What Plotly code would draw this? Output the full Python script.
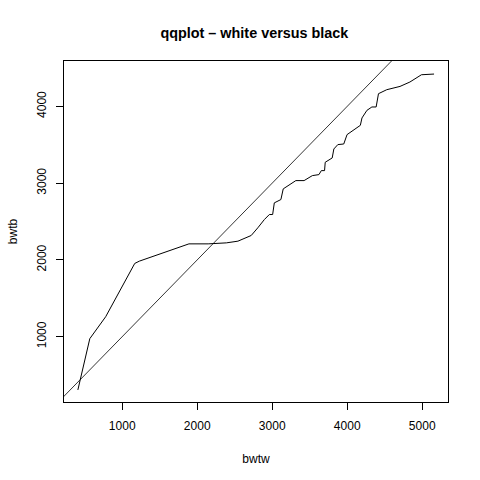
import plotly.graph_objects as go

# QQ curve: sorted white birth weights (x) vs black birth weights (y)
bwtw = [409, 568, 780, 978, 1167, 1229, 1890, 2146, 2389, 2543, 2720, 2808, 2896,
        2962, 3006, 3028, 3116, 3147, 3205, 3315, 3425, 3535, 3623, 3655, 3698,
        3707, 3800, 3822, 3875, 3954, 3998, 4087, 4175, 4197, 4263, 4329, 4386,
        4417, 4527, 4704, 4836, 4990, 5158]
bwtb = [306, 974, 1260, 1615, 1954, 1984, 2209, 2209, 2222, 2244, 2318, 2418, 2526,
        2591, 2591, 2743, 2786, 2925, 2960, 3033, 3033, 3098, 3111, 3163, 3163,
        3272, 3328, 3445, 3502, 3510, 3632, 3697, 3753, 3849, 3948, 3992, 3992,
        4165, 4217, 4260, 4317, 4412, 4421]

# reference line y = a + b x
line_a = 0
line_b = 1

x_range = [224, 5344]
y_range = [149, 4591]
x_ticks = [1000, 2000, 3000, 4000, 5000]
y_ticks = [1000, 2000, 3000, 4000]

font = "Liberation Sans, Arial, Helvetica, sans-serif"

fig = go.Figure()
fig.add_trace(go.Scatter(x=bwtw, y=bwtb, mode="lines",
                         line=dict(color="black", width=1), hoverinfo="skip"))
lx = [x_range[0] - 500, x_range[1] + 500]
fig.add_trace(go.Scatter(x=lx, y=[line_a + line_b * v for v in lx], mode="lines",
                         line=dict(color="black", width=0.8), hoverinfo="skip"))

axis_common = dict(showline=True, linecolor="black", linewidth=1, mirror=True,
                   ticks="outside", ticklen=7, tickwidth=1, tickcolor="black",
                   showgrid=False, zeroline=False,
                   tickfont=dict(family=font, size=12, color="black"))

fig.update_layout(
    width=480, height=480,
    margin=dict(l=61, r=32, t=61, b=78),
    paper_bgcolor="white", plot_bgcolor="white",
    showlegend=False,
    title=dict(text="<b>qqplot – white versus black</b>", x=0.53, xanchor="center",
               y=1 - 33 / 480, yanchor="middle",
               font=dict(family=font, size=14.4, color="black")),
    xaxis=dict(range=x_range, tickvals=x_ticks, ticktext=[str(v) for v in x_ticks],
               ticklabelstandoff=6,
               title=dict(text="bwtw", font=dict(family=font, size=12, color="black"),
                          standoff=22),
               **axis_common),
    yaxis=dict(range=y_range, tickvals=y_ticks, ticktext=[str(v) for v in y_ticks],
               tickangle=-90, ticklabelstandoff=5,
               title=dict(text="bwtb", font=dict(family=font, size=12, color="black"),
                          standoff=15),
               **axis_common),
)

fig.write_html("out.html", config={"displayModeBar": False},
               post_script="document.body.style.margin='0';document.body.style.padding='0';")
